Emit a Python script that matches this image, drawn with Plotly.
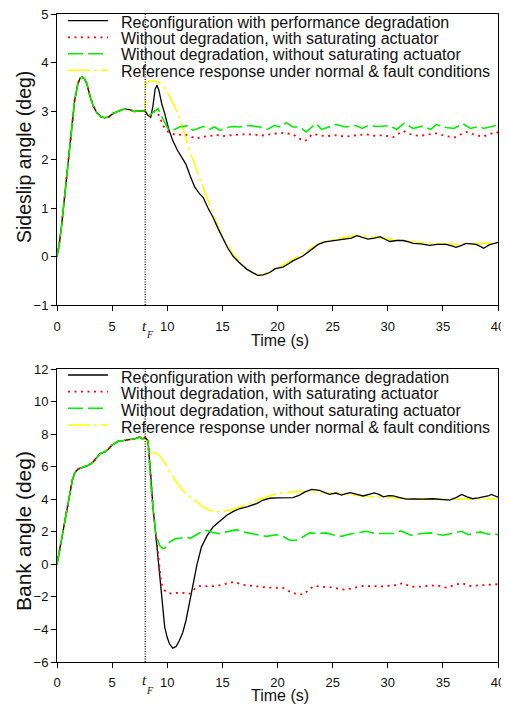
import plotly.graph_objects as go

# ---------------- data ----------------
T_FAULT = 8.0
TIME_TICKS = [0, 5, 10, 15, 20, 25, 30, 35, 40]
BETA_TICKS = [-1, 0, 1, 2, 3, 4, 5]
PHI_TICKS = [-6, -4, -2, 0, 2, 4, 6, 8, 10, 12]

LABELS = [
    "Reconfiguration with performance degradation",
    "Without degradation, with saturating actuator",
    "Without degradation, without saturating actuator",
    "Reference response under normal & fault conditions",
]

# Sideslip angle, common part before the fault
t_beta_pre = [0, 0.2, 0.4, 0.7, 1.0, 1.3, 1.6, 1.9, 2.1, 2.3, 2.5, 2.7, 3.0, 3.3, 3.6,
              4.0, 4.35, 4.7, 5.1, 5.6, 6.1, 6.6, 7.0, 7.4, 7.8, 8.0]
beta_pre = [0, 0.25, 0.6, 1.29, 1.98, 2.67, 3.22, 3.57, 3.68, 3.70, 3.66, 3.57, 3.30, 3.10, 2.97,
            2.88, 2.86, 2.88, 2.95, 3.0, 3.04, 3.03, 2.99, 3.0, 2.99, 3.0]

t_beta_reconf = [8.2, 8.5, 8.7, 8.9, 9.07, 9.25, 9.5, 9.77, 10.1, 10.5, 10.9, 11.3, 11.7, 12.1, 12.5,
                 12.9, 13.25, 13.7, 14.15, 14.6, 15.06, 15.5, 15.96, 16.5, 17.2, 17.7, 18.2, 18.7,
                 19.3, 19.8, 20.5, 21.0, 21.4, 22.3, 22.9, 23.7, 24.3, 25.0, 25.6, 26.2, 26.7, 27.2,
                 27.7, 28.2, 28.8, 29.3, 29.8, 30.2, 30.8, 31.4, 31.9, 32.3, 33.0, 33.8, 34.5, 35.3,
                 35.8, 36.2, 36.7, 37.1, 37.6, 38.0, 38.4, 38.7, 39.2, 39.6, 40.0]
beta_reconf = [2.92, 2.87, 3.1, 3.45, 3.53, 3.42, 3.15, 2.95, 2.65, 2.39, 2.2, 2.05, 1.9, 1.65, 1.43,
               1.3, 1.22, 1.0, 0.81, 0.58, 0.36, 0.17, 0.01, -0.12, -0.26, -0.32, -0.39, -0.38,
               -0.33, -0.25, -0.22, -0.15, -0.09, 0.01, 0.12, 0.25, 0.30, 0.32, 0.34, 0.36, 0.38, 0.43,
               0.40, 0.36, 0.38, 0.41, 0.35, 0.31, 0.33, 0.33, 0.30, 0.27, 0.26, 0.23, 0.25, 0.25,
               0.22, 0.19, 0.23, 0.27, 0.26, 0.25, 0.21, 0.17, 0.24, 0.27, 0.29]

t_beta_sat = [8.4, 8.86, 9.3, 9.6, 10.07, 10.8, 11.6, 12.6, 13.2, 13.8, 14.4, 15.0, 15.8, 16.8, 17.8,
              18.5, 19.3, 20.0, 20.5, 21.4, 22.0, 22.5, 23.2, 23.8, 24.4, 25.3, 26.2, 27.1, 28.0,
              28.8, 29.6, 30.5, 31.4, 32.3, 33.0, 33.8, 34.4, 35.0, 36.0, 37.1, 38.0, 38.6, 39.2,
              39.8, 40.0]
beta_sat = [2.9, 3.0, 2.9, 2.7, 2.57, 2.5, 2.52, 2.43, 2.47, 2.48, 2.51, 2.48, 2.5, 2.52, 2.52,
            2.49, 2.52, 2.53, 2.55, 2.52, 2.43, 2.38, 2.53, 2.5, 2.48, 2.5, 2.47, 2.5, 2.52,
            2.49, 2.50, 2.46, 2.59, 2.5, 2.49, 2.52, 2.54, 2.5, 2.45, 2.57, 2.5, 2.47, 2.52,
            2.57, 2.55]

t_beta_nosat = [8.4, 9.17, 9.6, 10.07, 10.5, 11.1, 11.9, 12.3, 12.75, 13.3, 13.8, 14.3, 14.8, 15.4,
                16.0, 16.6, 17.0, 17.5, 18.4, 19.1, 19.7, 20.3, 20.8, 21.4, 22.0, 22.6, 23.1, 23.5,
                24.0, 24.7, 25.3, 26.2, 27.1, 27.7, 28.2, 29.2, 30.2, 30.8, 31.5, 32.3, 33.2, 33.9,
                34.4, 35.3, 36.0, 36.8, 37.5, 38.3, 38.7, 39.8, 40.0]
beta_nosat = [2.91, 3.05, 2.84, 2.63, 2.6, 2.67, 2.7, 2.6, 2.64, 2.68, 2.62, 2.67, 2.6, 2.66,
              2.68, 2.67, 2.69, 2.70, 2.67, 2.62, 2.70, 2.67, 2.76, 2.67, 2.67, 2.57, 2.67, 2.74,
              2.62, 2.67, 2.72, 2.67, 2.70, 2.64, 2.70, 2.68, 2.70, 2.62, 2.75, 2.64, 2.69, 2.62,
              2.72, 2.66, 2.64, 2.74, 2.64, 2.68, 2.64, 2.70, 2.70]

t_beta_ref = [8.05, 8.3, 8.8, 9.2, 9.6, 10.0, 10.4, 10.8, 11.2, 11.6, 12.0, 12.6, 13.25, 13.7, 14.15,
              14.6, 15.06, 15.5, 16.0, 16.6, 17.2, 17.7, 18.2, 18.7, 19.3, 20.0, 20.7, 21.4, 22.2,
              23.0, 23.8, 24.5, 25.3, 26.2, 27.0, 28.0, 29.0, 30.0, 31.0, 32.0, 33.0, 34.0, 35.0,
              36.0, 37.0, 38.0, 39.0, 40.0]
beta_ref = [3.58, 3.62, 3.62, 3.6, 3.53, 3.4, 3.22, 3.03, 2.8, 2.5, 2.2, 1.82, 1.43, 1.15, 0.88,
            0.62, 0.38, 0.2, 0.04, -0.12, -0.24, -0.33, -0.38, -0.37, -0.32, -0.24, -0.15, -0.06, 0.06,
            0.17, 0.27, 0.32, 0.36, 0.40, 0.43, 0.42, 0.39, 0.36, 0.33, 0.31, 0.29, 0.27, 0.26,
            0.25, 0.26, 0.26, 0.27, 0.28]

# Bank angle, common part before the fault
t_phi_pre = [0, 0.3, 0.57, 0.8, 1.02, 1.2, 1.4, 1.6, 1.8, 2.0, 2.24, 2.5, 2.84, 3.1, 3.3, 3.6,
             3.9, 4.1, 4.35, 4.7, 4.96, 5.3, 5.56, 6.0, 6.62, 7.1, 7.5, 7.75, 8.0]
phi_pre = [0, 1.1, 2.19, 3.0, 3.93, 4.6, 5.2, 5.6, 5.78, 5.88, 5.94, 5.98, 6.08, 6.2, 6.3, 6.55,
           6.8, 6.85, 6.92, 7.1, 7.31, 7.45, 7.57, 7.6, 7.66, 7.72, 7.82, 7.7, 7.8]

t_phi_reconf = [8.25, 8.5, 8.7, 8.95, 9.16, 9.3, 9.47, 9.6, 9.77, 10.0, 10.2, 10.5, 10.8, 11.1, 11.4,
                11.7, 12.0, 12.3, 12.7, 13.1, 13.6, 14.15, 14.8, 15.4, 16.0, 16.6, 17.3, 18.1, 18.7,
                19.3, 20.0, 20.7, 21.4, 22.0, 22.5, 23.1, 23.8, 24.3, 24.7, 25.3, 25.8, 26.2, 26.6,
                27.2, 27.75, 28.3, 28.8, 29.2, 29.6, 30.1, 30.5, 31.1, 31.7, 32.4, 33.2, 34.1, 34.8,
                35.6, 36.2, 36.7, 37.2, 37.7, 38.2, 38.7, 39.1, 39.4, 39.8, 40.0]
phi_reconf = [7.6, 5.5, 3.53, 1.9, 0.45, -0.5, -1.6, -2.7, -3.86, -4.5, -4.88, -5.15, -5.05, -4.68, -4.2,
              -3.45, -2.4, -1.19, 0.0, 1.06, 1.75, 2.29, 2.7, 3.02, 3.25, 3.43, 3.55, 3.73, 3.95,
              4.06, 4.08, 4.1, 4.1, 4.25, 4.45, 4.6, 4.55, 4.4, 4.3, 4.38, 4.25, 4.35, 4.41,
              4.3, 4.2, 4.3, 4.39, 4.3, 4.15, 4.22, 4.2, 4.1, 4.0, 4.02, 4.0, 4.03, 4.0,
              3.94, 4.1, 4.29, 4.15, 4.03, 4.08, 4.13, 4.2, 4.29, 4.2, 4.13]

t_phi_sat = [8.25, 8.7, 9.16, 9.47, 9.77, 10.0, 10.4, 10.9, 11.4, 12.1, 12.5, 12.95, 13.7, 14.45,
             15.3, 16.1, 16.8, 17.5, 18.2, 19.0, 19.8, 20.5, 21.3, 21.7, 22.4, 22.9, 23.4, 24.0,
             24.7, 25.4, 26.1, 26.9, 27.75, 28.6, 29.6, 30.5, 31.4, 32.0, 32.6, 33.5, 34.4, 35.3,
             36.0, 36.7, 37.4, 38.0, 38.7, 39.3, 39.6, 40.0]
phi_sat = [7.6, 3.5, 0.45, -1.2, -1.6, -1.75, -1.8, -1.75, -1.75, -1.8, -1.5, -1.33, -1.35, -1.33,
           -1.2, -1.08, -1.25, -1.32, -1.36, -1.42, -1.43, -1.45, -1.76, -1.8, -1.86, -1.5, -1.33, -1.38,
           -1.39, -1.48, -1.56, -1.45, -1.33, -1.34, -1.35, -1.3, -1.15, -1.35, -1.39, -1.33, -1.29, -1.43,
           -1.3, -1.15, -1.33, -1.3, -1.29, -1.25, -1.2, -1.22]

t_phi_nosat = [8.25, 8.55, 8.95, 9.3, 9.6, 9.8, 10.07, 10.4, 10.8, 11.2, 11.7, 12.1, 12.6, 13.0,
               13.55, 14.1, 14.75, 15.5, 16.27, 16.8, 17.5, 18.1, 19.0, 19.9, 20.5, 21.1, 21.8, 22.4,
               22.9, 23.6, 24.4, 25.1, 25.8, 26.5, 27.2, 28.06, 28.8, 29.6, 30.5, 31.2, 32.1, 32.9,
               33.9, 34.5, 35.0, 35.8, 36.7, 37.3, 37.8, 38.4, 39.1, 39.5, 40.0]
phi_nosat = [7.6, 4.55, 1.89, 1.17, 0.97, 1.0, 1.27, 1.45, 1.58, 1.62, 1.68, 1.6, 1.78, 1.95,
             2.09, 1.95, 1.89, 2.0, 2.13, 2.0, 1.89, 1.83, 1.72, 1.82, 1.72, 1.48, 1.48, 1.7,
             1.93, 1.9, 1.93, 1.8, 1.72, 1.85, 1.95, 2.03, 1.9, 1.88, 1.89, 2.05, 1.79, 1.88,
             1.93, 1.85, 1.79, 1.9, 2.03, 1.82, 1.92, 1.99, 1.85, 1.9, 1.82]

t_phi_ref = [8.05, 8.28, 8.6, 9.0, 9.3, 9.8, 10.3, 10.8, 11.3, 11.8, 12.3, 12.8, 13.3, 13.85, 14.4,
             15.1, 15.8, 16.6, 17.5, 18.1, 19.0, 19.9, 20.5, 21.4, 22.5, 23.5, 24.5, 25.5, 26.6,
             27.6, 28.6, 29.6, 30.6, 31.6, 32.6, 34.0, 35.6, 37.0, 38.5, 40.0]
phi_ref = [7.9, 6.9, 6.9, 6.8, 6.7, 6.2, 5.6, 5.1, 4.6, 4.3, 4.04, 3.75, 3.5, 3.32, 3.25,
           3.25, 3.35, 3.53, 3.73, 3.94, 4.15, 4.35, 4.38, 4.45, 4.47, 4.45, 4.4, 4.35, 4.3,
           4.22, 4.15, 4.1, 4.06, 4.04, 4.03, 4.01, 4.0, 4.0, 4.01, 4.03]

BETA_RANGE = [-1, 5]
PHI_RANGE = [-6, 12]
TIME_RANGE = [0, 40]

# ---------------- layout geometry (page pixels; page body has an 8px margin) ----------------
OFF = 8
W, H = 509 - OFF, 706 - OFF
PLOT_L, PLOT_R, PLOT_T, PLOT_B = 57, 498, 14, 662  # page coords of the plotting region
ML, MT = PLOT_L - OFF, PLOT_T - OFF
MR, MB = W - (PLOT_R - OFF), H - (PLOT_B - OFF)
PW, PH = W - ML - MR, H - MT - MB
FONT = "Liberation Sans, Arial, sans-serif"

STYLES = [
    dict(color="#000000", width=1.3, dash="solid"),
    dict(color="#FF0000", width=1.8, dash="2px,4.5px"),
    dict(color="#00F000", width=1.6, dash="15px,5px"),
    dict(color="#FFFF00", width=1.6, dash="22px,4px,3px,4px"),
]


def px(x):
    return (x - PLOT_L) / PW


def py(y):
    return (PLOT_B - y) / PH


fig = go.Figure()

series_top = [
    (t_beta_pre + t_beta_reconf, beta_pre + beta_reconf),
    (t_beta_pre + t_beta_sat, beta_pre + beta_sat),
    (t_beta_pre + t_beta_nosat, beta_pre + beta_nosat),
    (t_beta_pre + t_beta_ref, beta_pre + beta_ref),
]
series_bot = [
    (t_phi_pre + t_phi_reconf, phi_pre + phi_reconf),
    (t_phi_pre + t_phi_sat, phi_pre + phi_sat),
    (t_phi_pre + t_phi_nosat, phi_pre + phi_nosat),
    (t_phi_pre + t_phi_ref, phi_pre + phi_ref),
]

draw_order = [3, 0, 1, 2]
for series, xa, ya in [(series_top, "x", "y"), (series_bot, "x2", "y2")]:
    for i in draw_order:
        tx, vy = series[i]
        fig.add_trace(go.Scatter(x=tx, y=vy, mode="lines", name=LABELS[i],
                                 line=STYLES[i], xaxis=xa, yaxis=ya, showlegend=False,
                                 hoverinfo="skip"))

# fault-time lines
for rng, xa, ya in [(BETA_RANGE, "x", "y"), (PHI_RANGE, "x2", "y2")]:
    fig.add_trace(go.Scatter(x=[T_FAULT, T_FAULT], y=rng, mode="lines",
                             line=dict(color="black", width=1.2, dash="1px,1.5px"),
                             xaxis=xa, yaxis=ya, showlegend=False, hoverinfo="skip"))

# manual legends
shapes = []
annotations = []
leg_rows = {
    "top": ([20.7, 37.3, 53.8, 70.3], [22.0, 38.3, 55.0, 71.7]),
    "bot": ([375.0, 391.7, 408.3, 425.0], [377.3, 393.5, 410.0, 427.3]),
}
for key in ["top", "bot"]:
    lines_y, text_y = leg_rows[key]
    for i in range(4):
        st = STYLES[i]
        shapes.append(dict(type="line", xref="paper", yref="paper",
                           x0=px(68), x1=px(108), y0=py(lines_y[i]), y1=py(lines_y[i]),
                           line=dict(color=st["color"], width=st["width"], dash=st["dash"])))
        annotations.append(dict(text=LABELS[i], xref="paper", yref="paper",
                                x=px(119), y=py(text_y[i]), xanchor="left", yanchor="middle",
                                showarrow=False, font=dict(family=FONT, size=16, color="#111")))

# axis titles
for txt, xc, yc, ang, sz in [
    ("Time (s)", 280, 340.5, 0, 16),
    ("Time (s)", 280, 695.5, 0, 16),
    ("Sideslip angle (deg)", 24, 157, -90, 19.5),
    ("Bank angle (deg)", 23, 531, -90, 21),
]:
    annotations.append(dict(text=txt, xref="paper", yref="paper", x=px(xc), y=py(yc),
                            xanchor="center", yanchor="middle", textangle=ang, showarrow=False,
                            font=dict(family=FONT, size=sz, color="#111")))

# t_F labels
for ty, fy in [(325.5, 334.5), (679.5, 690.0)]:
    annotations.append(dict(text="<i>t</i>", xref="paper", yref="paper", x=px(144.5), y=py(ty),
                            xanchor="center", yanchor="middle", showarrow=False,
                            font=dict(family="Liberation Serif, serif", size=15, color="#111")))
    annotations.append(dict(text="<i>F</i>", xref="paper", yref="paper", x=px(150), y=py(fy),
                            xanchor="center", yanchor="middle", showarrow=False,
                            font=dict(family="Liberation Serif, serif", size=10, color="#111")))

axis_common = dict(showline=True, mirror=True, linecolor="black", linewidth=1,
                   ticks="outside", ticklen=5, tickcolor="black", tickwidth=1,
                   showgrid=False, zeroline=False, ticklabeloverflow="allow",
                   tickfont=dict(family=FONT, size=13, color="#111"))

top_dom = [py(305), 1]
bot_dom = [0, py(369)]

fig.update_layout(
    width=W, height=H,
    margin=dict(l=ML, r=MR, t=MT, b=MB, autoexpand=False),
    paper_bgcolor="white", plot_bgcolor="white",
    showlegend=False,
    shapes=shapes, annotations=annotations,
    xaxis=dict(range=TIME_RANGE, tickvals=TIME_TICKS, domain=[0, 1], anchor="y",
               ticklabelstandoff=4, **axis_common),
    yaxis=dict(range=BETA_RANGE, tickvals=BETA_TICKS, domain=top_dom, anchor="x", **axis_common),
    xaxis2=dict(range=TIME_RANGE, tickvals=TIME_TICKS, domain=[0, 1], anchor="y2",
                ticklabelstandoff=3, **axis_common),
    yaxis2=dict(range=PHI_RANGE, tickvals=PHI_TICKS, domain=bot_dom, anchor="x2", **axis_common),
)

fig.write_html("out.html")
